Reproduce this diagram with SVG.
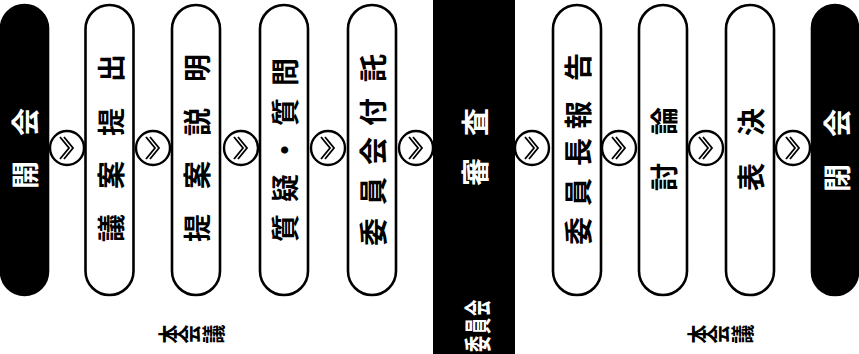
<svg xmlns="http://www.w3.org/2000/svg" width="859" height="354" viewBox="0 0 859 354">
<style>
.pill{fill:#fff;stroke:#000;stroke-width:2.6}
.pillb{fill:#000;stroke:#000;stroke-width:2.6}
.con circle{fill:#fff;stroke:#000;stroke-width:2.4}
.chev{fill:none;stroke:#000;stroke-width:1.8}
text{font-family:"Noto Sans CJK JP","Noto Sans CJK SC",sans-serif;font-weight:700;text-anchor:middle;dominant-baseline:central}
.t{font-size:28px;fill:#000}
.w{font-size:28px;fill:#fff}
.s{font-size:23px;fill:#000}
.sw{font-size:27px;fill:#fff}
</style>
<defs>
<path id="chev" class="chev" fill="none" stroke="#000" stroke-width="1.8" d="M-7,-11 L2,0 L-7,11 M-3,-11 L6,0 L-3,11"/>
</defs>
<rect x="433" y="0" width="82" height="354" fill="#000"/>
<g id="n1"><rect class="pillb" x="1" y="5" width="47" height="290" rx="23.5"/>
<g transform="translate(24,148) rotate(-90)"><text class="w" x="-27">開</text><text class="w" x="26">会</text></g></g>
<g id="n2"><rect class="pill" x="85.5" y="5" width="48" height="290" rx="24"/>
<g transform="translate(110,148) rotate(-90)"><text class="t" x="-80">議</text><text class="t" x="-27">案</text><text class="t" x="26">提</text><text class="t" x="80">出</text></g></g>
<g id="n3"><rect class="pill" x="172" y="5" width="48" height="290" rx="24"/>
<g transform="translate(196,148) rotate(-90)"><text class="t" x="-80">提</text><text class="t" x="-27">案</text><text class="t" x="26">説</text><text class="t" x="80">明</text></g></g>
<g id="n4"><rect class="pill" x="260" y="5" width="48" height="290" rx="24"/>
<g transform="translate(284,150) rotate(-90)"><text class="t" x="-78">質</text><text class="t" x="-38">疑</text><text class="t" x="0">・</text><text class="t" x="38">質</text><text class="t" x="78">問</text></g></g>
<g id="n5"><rect class="pill" x="348" y="5" width="48" height="290" rx="24"/>
<g transform="translate(372,150) rotate(-90)"><text class="t" x="-82">委</text><text class="t" x="-41">員</text><text class="t" x="-1">会</text><text class="t" x="38">付</text><text class="t" x="82">託</text></g></g>
<g id="n6"><g transform="translate(474,147) rotate(-90)"><text class="w" x="-25">審</text><text class="w" x="25">査</text></g>
<g transform="translate(476,326) rotate(-90) scale(0.6,1)"><text class="sw" x="-30">委</text><text class="sw" x="0">員</text><text class="sw" x="30">会</text></g></g>
<g id="n7"><rect class="pill" x="553" y="5" width="48" height="290" rx="24"/>
<g transform="translate(577,150) rotate(-90)"><text class="t" x="-81">委</text><text class="t" x="-42">員</text><text class="t" x="-2">長</text><text class="t" x="35">報</text><text class="t" x="83">告</text></g></g>
<g id="n8"><rect class="pill" x="639" y="5" width="48" height="290" rx="24"/>
<g transform="translate(663,149) rotate(-90)"><text class="t" x="-28">討</text><text class="t" x="28">論</text></g></g>
<g id="n9"><rect class="pill" x="726" y="5" width="48" height="290" rx="24"/>
<g transform="translate(750,149) rotate(-90)"><text class="t" x="-28">表</text><text class="t" x="27">決</text></g></g>
<g id="n10"><rect class="pillb" x="812" y="5" width="46" height="290" rx="23"/>
<g transform="translate(836,150) rotate(-90)"><text class="w" x="-28">閉</text><text class="w" x="27">会</text></g></g>
<g id="l1"><text class="s" transform="translate(168,334) rotate(-90) scale(0.82,1)">本</text><text class="s" transform="translate(188,334) rotate(-90) scale(0.82,1)">会</text><text class="s" transform="translate(212,334) rotate(-90) scale(0.82,1)">議</text></g>
<g id="l2"><text class="s" transform="translate(697,334) rotate(-90) scale(0.82,1)">本</text><text class="s" transform="translate(717,334) rotate(-90) scale(0.82,1)">会</text><text class="s" transform="translate(741,334) rotate(-90) scale(0.82,1)">議</text></g>
<g id="connectors" class="con">
<circle cx="67" cy="148" r="17"/><use href="#chev" x="67" y="148"/>
<circle cx="153" cy="148" r="17"/><use href="#chev" x="153" y="148"/>
<circle cx="241" cy="148" r="17"/><use href="#chev" x="241" y="148"/>
<circle cx="328" cy="148" r="17"/><use href="#chev" x="328" y="148"/>
<circle cx="416" cy="148" r="17"/><use href="#chev" x="416" y="148"/>
<circle cx="532" cy="148" r="17"/><use href="#chev" x="532" y="148"/>
<circle cx="619" cy="148" r="17"/><use href="#chev" x="619" y="148"/>
<circle cx="706" cy="148" r="17"/><use href="#chev" x="706" y="148"/>
<circle cx="793" cy="148" r="17"/><use href="#chev" x="793" y="148"/>
</g>
</svg>
